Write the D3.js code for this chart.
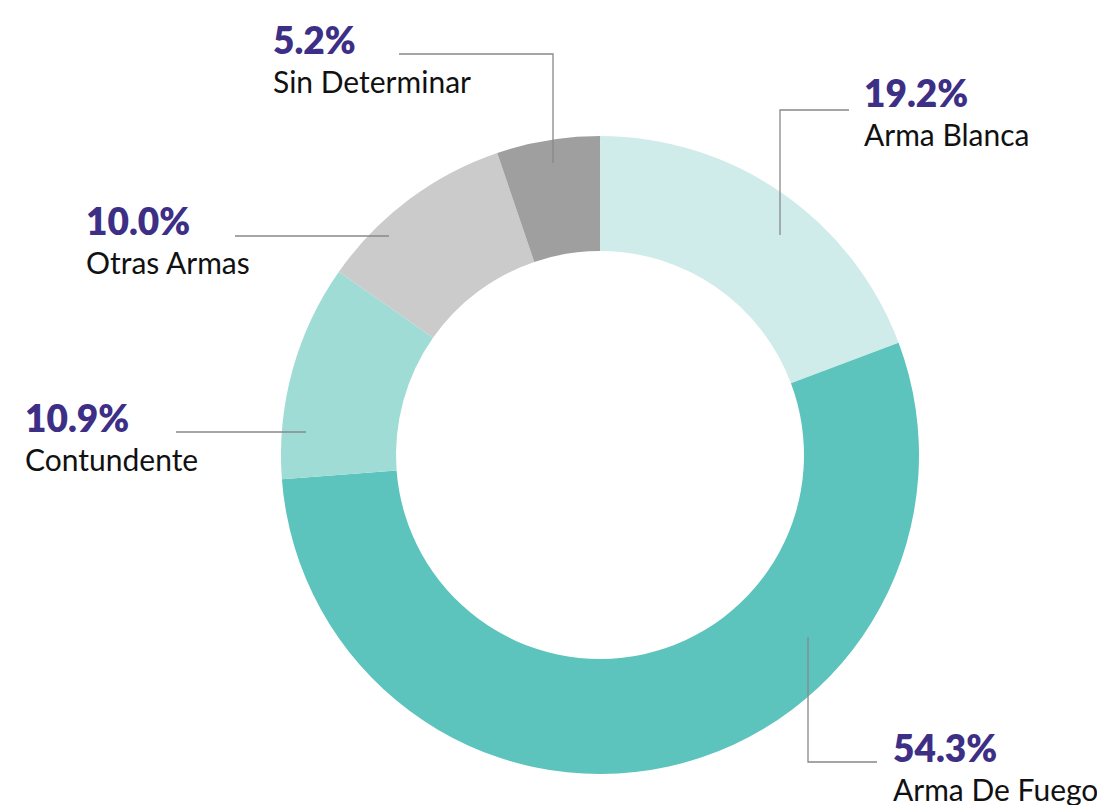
<!DOCTYPE html>
<html>
<head>
<meta charset="utf-8">
<script src="https://cdn.jsdelivr.net/npm/d3@7"></script>
<style>
  html, body { margin: 0; padding: 0; background: #fff; overflow: hidden; }
  svg { display: block; }
</style>
</head>
<body>
<svg id="chart" width="1097" height="805"></svg>
<script>
// ---- data ----
const categories = ["Arma Blanca", "Arma De Fuego", "Contundente", "Otras Armas", "Sin Determinar"];
const values = [19.2, 54.3, 10.9, 10.0, 5.2];
const valueLabels = ["19.2%", "54.3%", "10.9%", "10.0%", "5.2%"];

// ---- styles / layout ----
const colors = ["#d0ecea", "#5cc4bc", "#9fdcd6", "#cbcbcb", "#9f9f9f"];
const cx = 600, cy = 455, outerR = 319, innerR = 204;
// label text anchor (x, value baseline) and leader polyline points
const labelLayout = [
  { x: 864, y: 107, line: [[849, 110], [780, 110], [780, 235]] },
  { x: 893, y: 762, line: [[877, 762], [808, 762], [808, 637]] },
  { x: 25,  y: 432, line: [[176, 432], [306, 432]] },
  { x: 86,  y: 235, line: [[235, 236], [389, 236]] },
  { x: 273, y: 54,  line: [[399, 54], [553, 54], [553, 163]] }
];

const svg = d3.select("#chart");
const data = categories.map((c, i) => ({ name: c, value: values[i], label: valueLabels[i], color: colors[i], layout: labelLayout[i] }));

const pie = d3.pie().sort(null).value(d => d.value);
const arc = d3.arc().innerRadius(innerR).outerRadius(outerR);

const g = svg.append("g").attr("transform", `translate(${cx},${cy})`);
g.selectAll("path.slice")
  .data(pie(data))
  .join("path")
  .attr("class", "slice")
  .attr("d", arc)
  .attr("fill", d => d.data.color);

const line = d3.line();
svg.selectAll("path.leader")
  .data(data)
  .join("path")
  .attr("class", "leader")
  .attr("d", d => line(d.layout.line))
  .attr("fill", "none")
  .attr("stroke", "#888")
  .attr("stroke-width", 1.3);

const labels = svg.selectAll("g.label")
  .data(data)
  .join("g")
  .attr("class", "label")
  .attr("transform", d => `translate(${d.layout.x},${d.layout.y})`);

labels.append("text")
  .text(d => d.label)
  .attr("font-family", "Lato, 'Open Sans', sans-serif")
  .attr("font-weight", 800)
  .attr("font-size", 37)
  .attr("fill", "#3d2f86");

labels.append("text")
  .text(d => d.name)
  .attr("y", 39)
  .attr("font-family", "Lato, 'Open Sans', sans-serif")
  .attr("font-weight", 400)
  .attr("font-size", 30)
  .attr("fill", "#111");
</script>
</body>
</html>
